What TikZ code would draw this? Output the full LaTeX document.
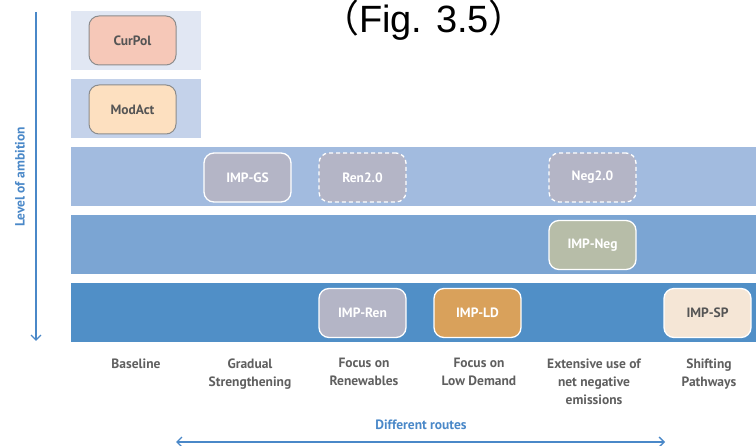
\documentclass[tikz,border=0pt]{standalone}
\usepackage{fontspec}
\setmainfont{PT Sans}
\newfontfamily\titlefont{Liberation Sans}
\newfontfamily\cjk{Noto Sans CJK SC}
\usetikzlibrary{arrows.meta}
\definecolor{bandA}{HTML}{E1E7F3}
\definecolor{bandB}{HTML}{C4D2EA}
\definecolor{bandC}{HTML}{A2BBDF}
\definecolor{bandD}{HTML}{7BA5D3}
\definecolor{bandE}{HTML}{508FC7}
\definecolor{axisblue}{HTML}{4A88C8}
\definecolor{graybox}{HTML}{B4B5C6}
\definecolor{negbox}{HTML}{B7BDA8}
\definecolor{ldbox}{HTML}{D9A15B}
\definecolor{spbox}{HTML}{F5E6D6}
\definecolor{curbox}{HTML}{F6C8B8}
\definecolor{modbox}{HTML}{FDE0C0}
\definecolor{labelgray}{HTML}{5F5F5F}
\definecolor{darktext}{HTML}{555555}
\tikzset{
  mybarb/.tip={Straight Barb[length=5pt,width=10pt,line width=1.3pt]},
  scen/.style={rounded corners=10pt, minimum width=87pt, minimum height=49pt,
    inner sep=0pt, font=\bfseries\fontsize{13.5}{15}\selectfont, line width=1.3pt},
  lightscen/.style={scen, draw=white, text=white},
  darkscen/.style={scen, draw=gray!90, line width=1pt, text=darktext},
  dashscen/.style={lightscen, dash pattern=on 4pt off 3pt},
  routelabel/.style={align=center, anchor=north, text=labelgray,
    font=\bfseries\fontsize{13.5}{18}\selectfont},
  axisarrow/.style={draw=axisblue, line width=1.3pt, -{mybarb}},
}
\begin{document}
\begin{tikzpicture}[x=1pt,y=-1pt]
\useasboundingbox (0,0) rectangle (756,446);
% bands
\fill[bandA] (71,11) rectangle (201,70);
\fill[bandB] (71,79) rectangle (201,138);
\fill[bandC] (71,147) rectangle (756,206);
\fill[bandD] (71,215) rectangle (756,274);
\fill[bandE] (71,283) rectangle (756,342);
% title
\node[font=\titlefont\fontsize{38}{40}\selectfont, inner sep=0pt, anchor=base] (title) at (424,33)
  {{\cjk （}Fig.\ \hspace{3pt}3.5{\cjk ）}};
% axis
\coordinate (ytop) at (36,12);
\coordinate (ybot) at (36,341);
\draw[axisarrow] (ytop) -- (ybot);
\node[rotate=90, text=axisblue, font=\bfseries\fontsize{13.5}{15}\selectfont] (ylab) at (20,177) {Level of ambition};
% scenario boxes
\node[darkscen, fill=curbox] (curpol) at (132.5,40.5) {CurPol};
\node[darkscen, fill=modbox] (modact) at (132.5,109.5) {ModAct};
\node[lightscen, fill=graybox] (impgs) at (247.5,177.5) {IMP-GS};
\node[dashscen, fill=graybox] (ren2) at (362.5,177.5) {Ren2.0};
\node[dashscen, fill=graybox] (neg2) at (592.5,177.5) {Neg2.0};
\node[lightscen, fill=negbox] (impneg) at (592.5,245) {IMP-Neg};
\node[lightscen, fill=graybox] (impren) at (362.5,313) {IMP-Ren};
\node[lightscen, fill=ldbox] (impld) at (477.5,313) {IMP-LD};
\node[darkscen, fill=spbox, draw=white, line width=1.3pt] (impsp) at (707.5,313) {IMP-SP};
% route labels
\node[routelabel] (l1) at (136,355) {Baseline};
\node[routelabel] (l2) at (250,355) {Gradual\\Strengthening};
\node[routelabel] (l3) at (364,355) {Focus on\\Renewables};
\node[routelabel] (l4) at (479,355) {Focus on\\Low Demand};
\node[routelabel] (l5) at (594,355) {Extensive use of\\net negative\\emissions};
\node[routelabel] (l6) at (709,355) {Shifting\\Pathways};
% different routes
\node[text=axisblue, font=\bfseries\fontsize{13.5}{15}\selectfont] (routes) at (421,425) {Different routes};
\coordinate (rl) at (176,442);
\coordinate (rr) at (665,442);
\draw[axisblue, line width=1.3pt, {mybarb}-{mybarb}] (rl) -- (rr);
\end{tikzpicture}
\end{document}
